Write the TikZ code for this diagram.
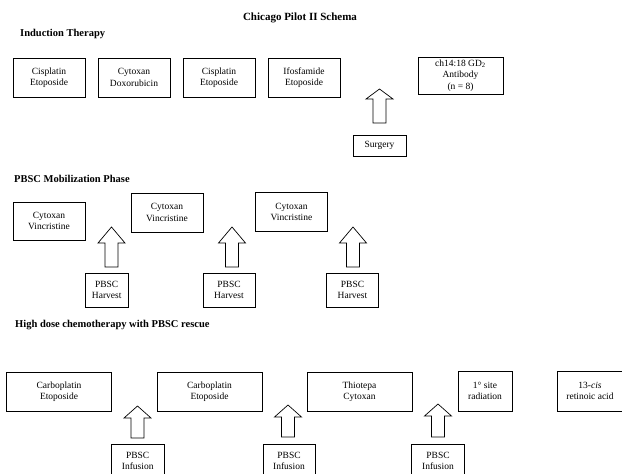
\documentclass[tikz,border=0pt]{standalone}
\usepackage{fontspec}
\setmainfont{Liberation Serif}
\usetikzlibrary{calc}

% hollow block arrow from #1 (foot) up to #2 (tip), head #3 pt high
\newcommand{\blockarrow}[3]{%
  \draw[blockarr] let \p1 = (#1), \p2 = (#2) in
    (\x1-6.5pt,\y1) -- (\x1-6.5pt,\y2-#3pt) -- (\x1-13.5pt,\y2-#3pt) -- (\x2,\y2)
    -- (\x1+13.5pt,\y2-#3pt) -- (\x1+6.5pt,\y2-#3pt) -- (\x1+6.5pt,\y1) -- cycle;}

\begin{document}
\begin{tikzpicture}[x=1pt, y=-1pt,
    stage/.style={draw, line width=0.7pt, align=center, inner sep=0pt,
      font=\fontsize{9.5}{11.5}\selectfont},
    small stage/.style={stage, minimum width=72, minimum height=39},
    big stage/.style={stage, minimum width=105, minimum height=39},
    heading/.style={anchor=west, inner sep=0pt, font=\fontsize{10.5}{12}\selectfont\bfseries},
    blockarr/.style={line width=0.7pt}]
  \useasboundingbox (0, 0) rectangle (622, 474);

  \node[inner sep=0pt, font=\fontsize{11}{13}\selectfont\bfseries] (title) at (300, 18) {Chicago Pilot II Schema};

  % induction
  \node[heading] (ind) at (20, 34) {Induction Therapy};
  \node[small stage] (i1) at (49, 77.5) {Cisplatin\\Etoposide};
  \node[small stage] (i2) at (134, 77.5) {Cytoxan\\Doxorubicin};
  \node[small stage] (i3) at (219, 77.5) {Cisplatin\\Etoposide};
  \node[small stage] (i4) at (304, 77.5) {Ifosfamide\\Etoposide};
  \node[stage, minimum width=85, minimum height=37] (ab) at (460.5, 75.5) {ch14:18 GD\textsubscript{2}\\Antibody\\(n = 8)};
  \node[stage, minimum width=53, minimum height=21] (surg) at (379.5, 145.5) {Surgery};
  \coordinate (surgb) at (379.5, 123);
  \coordinate (surgt) at (379.5, 89);

  % mobilization
  \node[heading] (mob) at (14, 179) {PBSC Mobilization Phase};
  \node[small stage, minimum height=38] (m1) at (49, 221) {Cytoxan\\Vincristine};
  \node[small stage] (m2) at (167, 212.5) {Cytoxan\\Vincristine};
  \node[small stage] (m3) at (291.5, 212) {Cytoxan\\Vincristine};
  \node[stage, minimum width=43, minimum height=34] (h1) at (106.7, 290) {PBSC\\Harvest};
  \node[stage, minimum width=52, minimum height=34] (h2) at (229, 290) {PBSC\\Harvest};
  \node[stage, minimum width=52, minimum height=34] (h3) at (352.5, 290) {PBSC\\Harvest};
  \coordinate (h1b) at (111.5, 267);
  \coordinate (h1t) at (111.5, 227);
  \coordinate (h2b) at (232, 267);
  \coordinate (h2t) at (232, 227);
  \coordinate (h3b) at (353, 267);
  \coordinate (h3t) at (353, 227);

  % high dose
  \node[heading] (hd) at (15, 325) {High dose chemotherapy with PBSC rescue};
  \node[big stage] (c1) at (59, 391.5) {Carboplatin\\Etoposide};
  \node[big stage] (c2) at (209.5, 391.5) {Carboplatin\\Etoposide};
  \node[big stage] (c3) at (359.5, 391.5) {Thiotepa\\Cytoxan};
  \node[stage, minimum width=54, minimum height=40] (rad) at (485, 391) {1° site\\radiation};
  \node[stage, minimum width=66, minimum height=40] (cis) at (590, 391) {13-\textit{cis}\\retinoic acid};
  \node[stage, minimum width=53, minimum height=34] (f1) at (137.7, 461) {PBSC\\Infusion};
  \node[stage, minimum width=52, minimum height=34] (f2) at (289, 461) {PBSC\\Infusion};
  \node[stage, minimum width=53, minimum height=34] (f3) at (438, 461) {PBSC\\Infusion};
  \coordinate (f1b) at (137.5, 438);
  \coordinate (f1t) at (137.5, 406);
  \coordinate (f2b) at (288, 437);
  \coordinate (f2t) at (288, 405);
  \coordinate (f3b) at (438, 437);
  \coordinate (f3t) at (438, 404);

  \blockarrow{surgb}{surgt}{10}
  \blockarrow{h1b}{h1t}{16}
  \blockarrow{h2b}{h2t}{16}
  \blockarrow{h3b}{h3t}{16}
  \blockarrow{f1b}{f1t}{12}
  \blockarrow{f2b}{f2t}{12}
  \blockarrow{f3b}{f3t}{12}
\end{tikzpicture}
\end{document}
